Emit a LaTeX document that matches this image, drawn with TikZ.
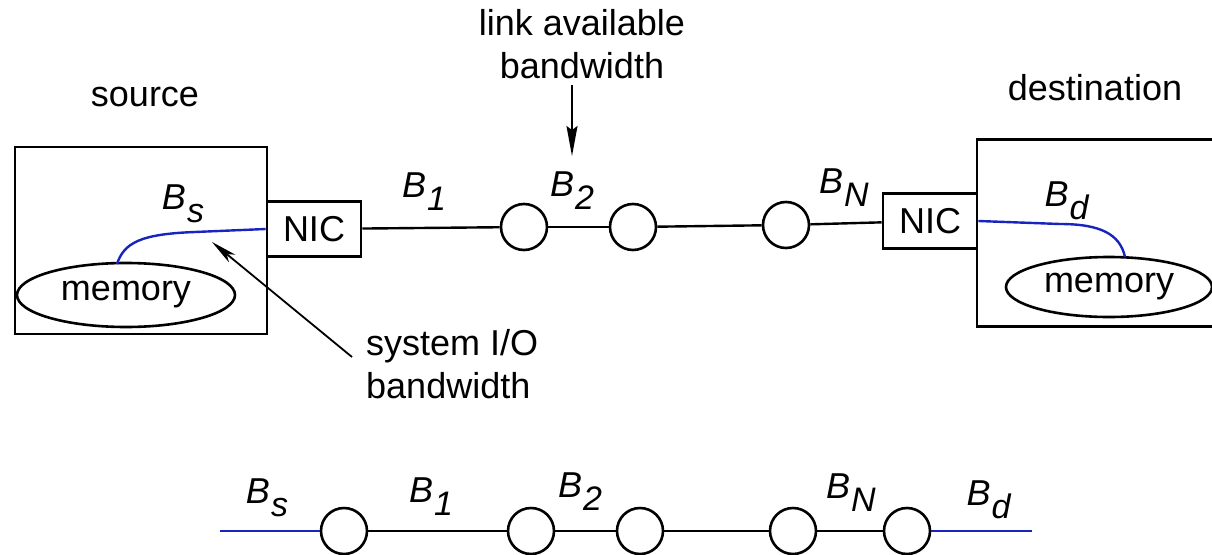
\documentclass[tikz,border=0pt]{standalone}
\usepackage{fontspec}
\setmainfont{Liberation Sans}
\usetikzlibrary{shapes.geometric,arrows.meta}
\definecolor{linkblue}{RGB}{25,35,190}
\newcommand{\Bsub}[1]{\textit{B}\kern1pt\raisebox{-13pt}{\fontsize{34}{34}\selectfont\textit{#1}}}
\begin{document}
\begin{tikzpicture}[x=1pt,y=-1pt,
  font=\fontsize{36}{43}\selectfont,
  line width=2.4pt,
  box/.style={draw, rectangle, inner sep=0pt, line width=2.6pt},
  nic/.style={draw, rectangle, minimum width=94pt, minimum height=55pt, inner sep=0pt, line width=2.6pt},
  mem/.style={draw, ellipse, inner sep=0pt, line width=2.6pt},
  router/.style={draw, circle, minimum size=46pt, inner sep=0pt, line width=2.6pt},
  lbl/.style={inner sep=0pt},
  bl/.style={draw=linkblue, line width=2.4pt},
  arr/.style={-{Stealth[length=26pt,width=10pt,inset=7pt]}, line width=1.8pt}]
\useasboundingbox (0,0) rectangle (1212,554);
\clip (0,0) rectangle (1212,554);
\fill[white] (0,0) rectangle (1212,554);

% titles
\node[lbl] (src) at (145,97) {source};
\node[lbl] (dst) at (1095,88) {destination};
\node[lbl, align=center] (linklbl) at (582,44) {link available\\bandwidth};
\node[lbl, align=left, anchor=north west] (iolbl) at (365,328) {system I/O\\bandwidth};

% source side
\node[box, minimum width=252pt, minimum height=187pt] (srcbox) at (141,240.5) {};
\node[mem, minimum width=218pt, minimum height=64pt] (memL) at (126,295) {memory};
\node[nic] (nicL) at (314,229) {NIC};

% destination side
\node[box, minimum width=285pt, minimum height=187pt] (dstbox) at (1119.5,233) {};
\node[mem, minimum width=206pt, minimum height=60pt] (memR) at (1109,287) {memory};
\node[nic] (nicR) at (930,221) {NIC};

% routers top
\node[router] (r1) at (524,227) {};
\node[router] (r2) at (633,227) {};
\node[router] (r3) at (786,225) {};

\draw (nicL) -- (r1);
\draw (r1) -- (r2);
\draw (r2) -- (r3);
\draw (r3) -- (nicR);

% blue internal paths
\coordinate (ms) at (117,264);
\draw[bl] (ms) .. controls (124,243) and (140,234) .. (195,232) -- (nicL.west);
\coordinate (md) at (1125,257);
\draw[bl] (nicR.east) -- (1060,224) .. controls (1100,224) and (1120,234) .. (md);

% top labels
\node[lbl] (bsT) at (183,204) {\Bsub{s}};
\node[lbl] (b1T) at (424,192) {\Bsub{1}};
\node[lbl] (b2T) at (572,191) {\Bsub{2}};
\node[lbl] (bnT) at (844,188) {\Bsub{N}};
\node[lbl] (bdT) at (1067,201) {\Bsub{d}};

% arrows
\coordinate (ioTail) at (352,357);
\coordinate (ioTip) at (212,242);
\draw[arr] (ioTail) -- (ioTip);
\coordinate (lkTail) at (572,85);
\coordinate (lkTip) at (572,156);
\draw[arr, -{Stealth[length=30pt,width=11pt,inset=4pt]}] (lkTail) -- (lkTip);

% bottom chain
\coordinate (bl0) at (220,531);
\node[router] (b1) at (344,531) {};
\node[router] (b2) at (531,531) {};
\node[router] (b3) at (640,531) {};
\node[router] (b4) at (793,531) {};
\node[router] (b5) at (907,531) {};
\coordinate (bl6) at (1032,531);
\draw[bl] (bl0) -- (b1);
\draw (b1) -- (b2);
\draw (b2) -- (b3);
\draw (b3) -- (b4);
\draw (b4) -- (b5);
\draw[bl] (b5) -- (bl6);

\node[lbl] (bsB) at (267,498) {\Bsub{s}};
\node[lbl] (b1B) at (431,497) {\Bsub{1}};
\node[lbl] (b2B) at (580,492) {\Bsub{2}};
\node[lbl] (bnB) at (851,493) {\Bsub{N}};
\node[lbl] (bdB) at (989,500) {\Bsub{d}};
\end{tikzpicture}
\end{document}
